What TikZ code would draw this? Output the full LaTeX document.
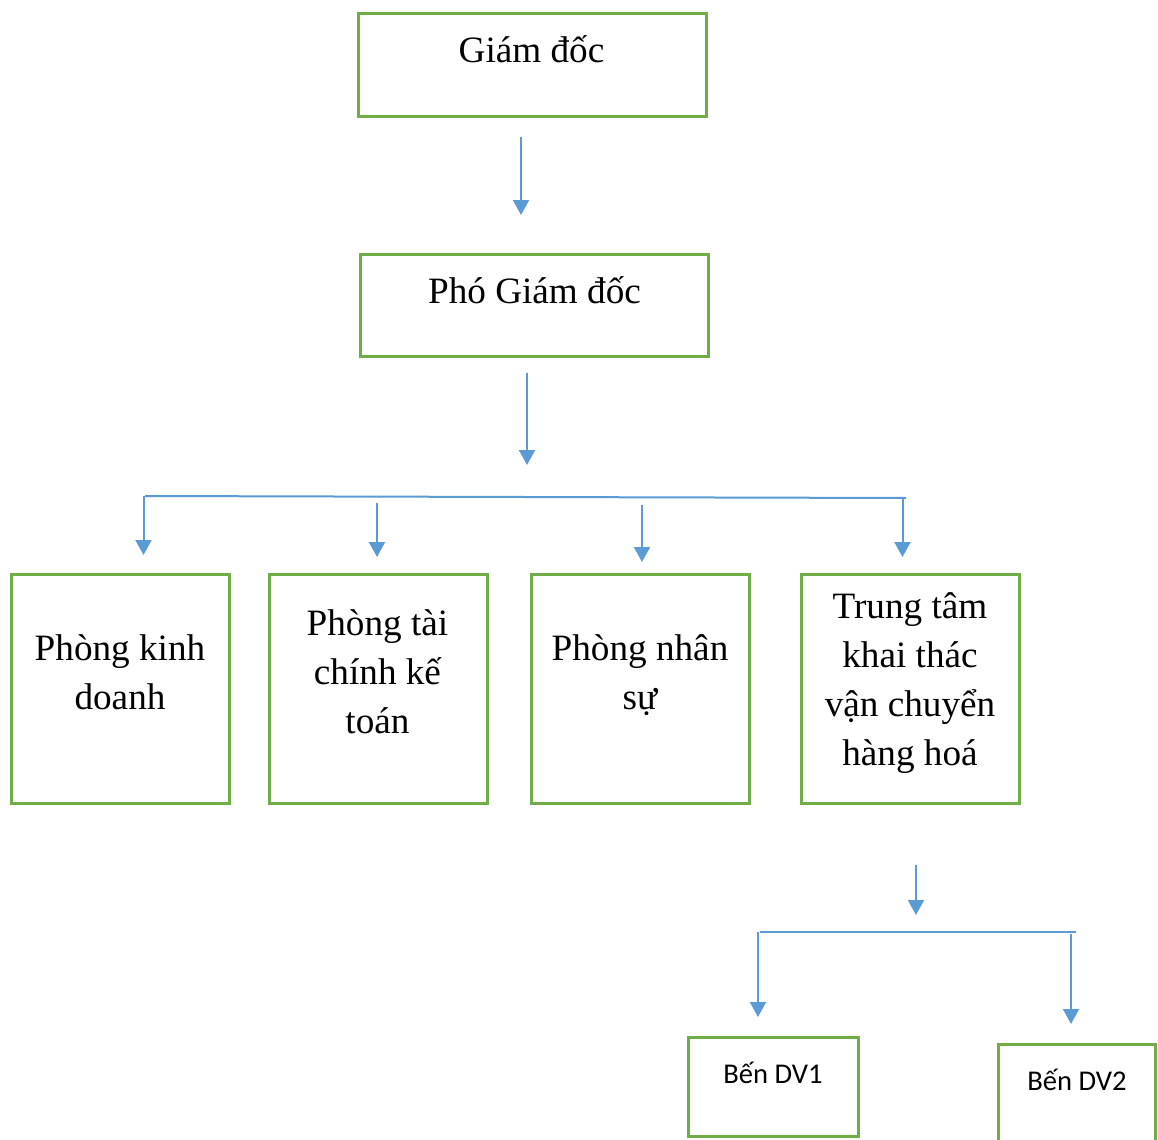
\documentclass[tikz,border=0pt]{standalone}
\usepackage{fontspec}
\setmainfont{Liberation Serif}
\newfontfamily\calib{Carlito}
\usetikzlibrary{arrows.meta}
\definecolor{boxgreen}{HTML}{70AD47}
\definecolor{arrowblue}{HTML}{5B9BD5}
\begin{document}
\begin{tikzpicture}[x=0.5pt,y=-0.5pt,
  box/.style={draw=boxgreen, line width=1.5pt, inner sep=0pt, rectangle},
  wide/.style={minimum width=174pt, minimum height=51.5pt},
  tall/.style={minimum width=109pt, minimum height=114.5pt},
  lbl/.style={anchor=north, inner sep=0pt, align=center, yshift=17.15pt,
    font=\fontsize{18.6pt}{24.5pt}\selectfont},
  dvlbl/.style={anchor=base, inner sep=0pt, font=\calib\fontsize{14.3pt}{17pt}\selectfont},
  arr/.style={draw=arrowblue, line width=1pt, -{Triangle[width=8pt,length=7.5pt]}},
  hline/.style={draw=arrowblue, line width=1pt}]
\useasboundingbox (0,0) rectangle (1158,1140);
\fill[white] (0,0) rectangle (1158,1140);

% boxes
\node[box, wide] (gd) at (532.5,65) {};
\node[box, wide, minimum height=51pt] (pgd) at (534.5,305.5) {};
\node[box, tall] (b1) at (120.5,689) {};
\node[box, tall] (b2) at (378.5,689) {};
\node[box, tall] (b3) at (640.5,689) {};
\node[box, tall] (b4) at (910.5,689) {};
\node[box, minimum width=85pt, minimum height=49.5pt] (dv1) at (773.5,1087) {};
\node[box, minimum width=78.5pt, minimum height=49.5pt] (dv2) at (1077,1094) {};

% labels
\node[lbl] (tgd) at (531.5,62) {\strut Giám đốc};
\node[lbl] (tpgd) at (534.5,303) {\strut Phó Giám đốc};
\node[lbl] (tb1) at (120,660) {\strut Phòng kinh\\doanh};
\node[lbl] (tb2) at (377.5,635) {\strut Phòng tài\\chính kế\\toán};
\node[lbl] (tb3) at (640,660) {\strut Phòng nhân\\sự};
\node[lbl] (tb4) at (910,618) {\strut Trung tâm\\khai thác\\vận chuyển\\hàng hoá};
\node[dvlbl] (tdv1) at (773,1083) {Bến DV1};
\node[dvlbl] (tdv2) at (1077,1090) {Bến DV2};

% connector points
\coordinate (a1s) at (521,137);  \coordinate (a1e) at (521,215);
\coordinate (a2s) at (527,373);  \coordinate (a2e) at (527,465);
\coordinate (hl) at (145,496);   \coordinate (hr) at (906,498);
\coordinate (c1s) at (143.5,496); \coordinate (c1e) at (143.5,555);
\coordinate (c2s) at (377,503);  \coordinate (c2e) at (377,557);
\coordinate (c3s) at (642,505);  \coordinate (c3e) at (642,562);
\coordinate (c4s) at (902.5,498); \coordinate (c4e) at (902.5,557);
\coordinate (a3s) at (916,865);  \coordinate (a3e) at (916,915);
\coordinate (h2l) at (760,932);  \coordinate (h2r) at (1076,932);
\coordinate (d1s) at (758,932);  \coordinate (d1e) at (758,1017);
\coordinate (d2s) at (1071,934); \coordinate (d2e) at (1071,1024);

% connectors
\draw[arr] (a1s) -- (a1e);
\draw[arr] (a2s) -- (a2e);
\draw[hline] (hl) -- (hr);
\draw[arr] (c1s) -- (c1e);
\draw[arr] (c2s) -- (c2e);
\draw[arr] (c3s) -- (c3e);
\draw[arr] (c4s) -- (c4e);
\draw[arr] (a3s) -- (a3e);
\draw[hline] (h2l) -- (h2r);
\draw[arr] (d1s) -- (d1e);
\draw[arr] (d2s) -- (d2e);
\end{tikzpicture}
\end{document}
